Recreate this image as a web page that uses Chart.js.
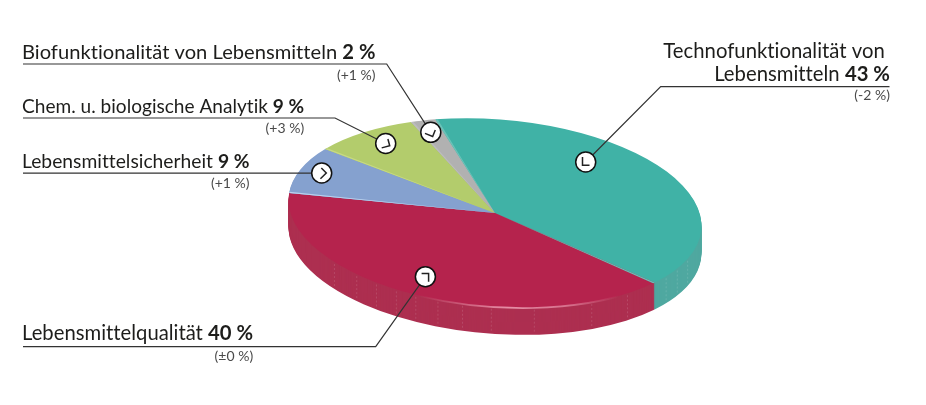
<!DOCTYPE html>
<html>
<head>
<meta charset="utf-8">
<script src="https://cdn.jsdelivr.net/npm/chart.js@4"></script>
<style>
html, body { margin: 0; padding: 0; background: #fff; }
canvas { display: block; }
</style>
</head>
<body>
<canvas id="myChart" width="926" height="405"></canvas>
<script>
// order is clockwise from the teal slice
var categories = [
    ['Technofunktionalität von', 'Lebensmitteln'],
    ['Lebensmittelqualität'],
    ['Lebensmittelsicherheit'],
    ['Chem. u. biologische Analytik'],
    ['Biofunktionalität von Lebensmitteln']
];
var printedValues = ['43 %', '40 %', '9 %', '9 %', '2 %'];
var printedChanges = ['(-2 %)', '(±0 %)', '(+1 %)', '(+3 %)', '(+1 %)'];
// size of the wedges as they are drawn in the picture (the printed numbers add up to 103)
var drawnShares = [40.6, 40.3, 8.4, 8.7, 2.0];

var topColours = ['#40B2A6', '#B5234D', '#85A1CF', '#B3CC6C', '#B1B1B1'];
var sideColours = ['#4FA8A0', '#AD2F50', '#7E94B8', '#A0B566', '#A0A0A0'];
var edgeColours = ['#6BC2B8', '#66C4B9', '#BBD2EE', '#C6D985', '#BDBDBD'];

var tilt = 4.5 * Math.PI / 180;
var squash = 0.4527;
var depth = 27;
var seamAngles = [139, 130, 123, 116.5, 110.5, 104, 97, 89, 77, 60, 48, 32, 26, 19];

var textFont = 'Lato, sans-serif';
var ink = '#1d1d1b';

// where each callout sits, same order as categories
var callouts = [
    {right: 890, size: 20.3, lines: [58, 81], rightLine0: 885, rule: [889.5, 660.7, 86.7], dot: [585.7, 162], turn: 0, change: 100},
    {left: 22, size: 20.25, lines: [340], rule: [23, 375.7, 346.7], dot: [425.4, 276.7], turn: 180, change: 361},
    {left: 22, size: 19.25, lines: [167.5], rule: [23, 312, 173.2], dot: [321.7, 173], turn: -135, change: 188},
    {left: 22, size: 19.07, lines: [112.5], rule: [23, 335, 118], dot: [385.7, 143.5], turn: -105, change: 133},
    {left: 22, size: 20.15, lines: [58.5], rule: [23, 386.7, 64], dot: [430.8, 132.3], turn: -68, change: 80}
];

function flatten(ctx, cx, cy) {
    ctx.translate(cx, cy);
    ctx.rotate(tilt);
    ctx.scale(1, squash);
    ctx.translate(-cx, -cy);
}

function sector(ctx, x, y, r, a, b) {
    ctx.beginPath();
    ctx.moveTo(x, y);
    ctx.arc(x, y, r, a, b);
    ctx.closePath();
}

var discPlugin = {
    id: 'disc',
    beforeDatasetsDraw: function (chart) {
        var ctx = chart.ctx;
        var arcs = chart.getDatasetMeta(0).data;
        var cx = arcs[0].x, cy = arcs[0].y, r = arcs[0].outerRadius;

        // the wall of the disc
        for (var d = depth; d >= 1; d--) {
            ctx.save();
            ctx.translate(0, d);
            flatten(ctx, cx, cy);
            for (var i = 0; i < arcs.length; i++) {
                ctx.fillStyle = sideColours[i];
                sector(ctx, cx, cy, r, arcs[i].startAngle, arcs[i].endAngle);
                ctx.fill();
            }
            ctx.restore();
        }

        // seams on the wall
        ctx.save();
        ctx.strokeStyle = 'rgba(255,255,255,0.16)';
        ctx.lineWidth = 0.8;
        ctx.setLineDash([2, 2]);
        for (var s = 0; s < seamAngles.length; s++) {
            var a = seamAngles[s] * Math.PI / 180;
            var ux = r * Math.cos(a), uy = r * squash * Math.sin(a);
            var px = cx + ux * Math.cos(tilt) - uy * Math.sin(tilt);
            var py = cy + ux * Math.sin(tilt) + uy * Math.cos(tilt);
            ctx.beginPath();
            ctx.moveTo(px, py + 2);
            ctx.lineTo(px, py + depth - 1);
            ctx.stroke();
        }
        ctx.restore();

        ctx.save();
        flatten(ctx, cx, cy);
    },
    afterDatasetsDraw: function (chart) {
        var ctx = chart.ctx;
        var arcs = chart.getDatasetMeta(0).data;
        var cx = arcs[0].x, cy = arcs[0].y, r = arcs[0].outerRadius;

        // lighter strip along the start of every slice
        for (var i = 0; i < arcs.length; i++) {
            ctx.fillStyle = edgeColours[i];
            sector(ctx, cx, cy, r, arcs[i].startAngle, arcs[i].startAngle + 0.012);
            ctx.fill();
        }

        // light on the front rim, fading out to both ends
        var glow = ctx.createLinearGradient(cx - 70, 0, cx + 130, 0);
        glow.addColorStop(0, 'rgba(240,150,175,0)');
        glow.addColorStop(0.45, 'rgba(240,160,182,0.85)');
        glow.addColorStop(0.75, 'rgba(240,160,182,0.6)');
        glow.addColorStop(1, 'rgba(240,150,175,0)');
        ctx.strokeStyle = glow;
        ctx.lineWidth = 3.6;
        ctx.beginPath();
        ctx.arc(cx, cy, r + 0.5, 45 * Math.PI / 180, 110 * Math.PI / 180);
        ctx.stroke();

        ctx.restore();
    }
};

function drawLabel(ctx, size, words, value, x, right, baseline) {
    ctx.font = size + 'px ' + textFont;
    var plainW = ctx.measureText(words + ' ').width;
    ctx.font = 'bold ' + size + 'px ' + textFont;
    var boldW = value ? ctx.measureText(value).width : 0;
    var start = right !== undefined ? right - plainW - boldW : x;
    ctx.fillStyle = ink;
    ctx.font = size + 'px ' + textFont;
    ctx.fillText(words, start, baseline);
    if (value) {
        ctx.font = 'bold ' + size + 'px ' + textFont;
        ctx.fillText(value, start + plainW, baseline);
    }
    return start + plainW + boldW;
}

var calloutPlugin = {
    id: 'callouts',
    afterDraw: function (chart) {
        var ctx = chart.ctx;
        ctx.save();
        ctx.textBaseline = 'alphabetic';
        ctx.textAlign = 'left';
        ctx.letterSpacing = '0.01px'; // keeps Lato from joining "ti"
        for (var i = 0; i < callouts.length; i++) {
            var c = callouts[i];
            var names = categories[i];
            var end;

            for (var n = 0; n < names.length; n++) {
                var last = n === names.length - 1;
                if (c.right !== undefined) {
                    if (last) {
                        end = drawLabel(ctx, c.size, names[n], printedValues[i], undefined, c.right, c.lines[n]);
                    } else {
                        drawLabel(ctx, c.size, names[n], '', undefined, c.rightLine0 + 5, c.lines[n]);
                    }
                } else {
                    end = drawLabel(ctx, c.size, names[n], printedValues[i], c.left, undefined, c.lines[n]);
                }
            }

            ctx.font = '14px ' + textFont;
            ctx.fillStyle = '#4a4a4a';
            ctx.textAlign = 'right';
            ctx.fillText(printedChanges[i], end, c.change);
            ctx.textAlign = 'left';

            // rule under the label, then the diagonal to the dot
            ctx.strokeStyle = '#333';
            ctx.lineWidth = 1.2;
            ctx.beginPath();
            ctx.moveTo(c.rule[0], c.rule[2]);
            ctx.lineTo(c.rule[1], c.rule[2]);
            ctx.lineTo(c.dot[0], c.dot[1]);
            ctx.stroke();

            ctx.fillStyle = '#fff';
            ctx.strokeStyle = '#111';
            ctx.lineWidth = 1.5;
            ctx.beginPath();
            ctx.arc(c.dot[0], c.dot[1], 10, 0, Math.PI * 2);
            ctx.fill();
            ctx.stroke();

            // small corner mark inside the dot
            ctx.save();
            ctx.translate(c.dot[0], c.dot[1]);
            ctx.rotate(c.turn * Math.PI / 180);
            ctx.strokeStyle = '#222';
            ctx.lineWidth = 1.5;
            ctx.beginPath();
            ctx.moveTo(-3.2, -5);
            ctx.lineTo(-3.2, 3.3);
            ctx.lineTo(3.8, 3.3);
            ctx.stroke();
            ctx.restore();
        }
        ctx.restore();
    }
};

new Chart(document.getElementById('myChart').getContext('2d'), {
    type: 'pie',
    data: {
        labels: categories.map(function (c) { return c.join(' '); }),
        datasets: [{
            data: drawnShares,
            backgroundColor: topColours,
            borderWidth: 0,
            clip: false
        }]
    },
    options: {
        responsive: false,
        animation: false,
        radius: 207,
        rotation: -18.85,
        layout: {padding: {left: 64, top: 21}},
        plugins: {legend: {display: false}, tooltip: {enabled: false}}
    },
    plugins: [discPlugin, calloutPlugin]
});
</script>
</body>
</html>
